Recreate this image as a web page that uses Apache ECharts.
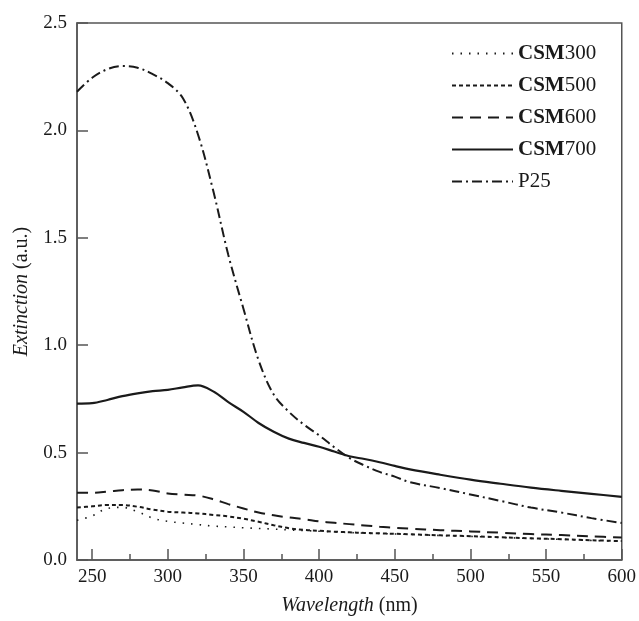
<!DOCTYPE html>
<html>
<head>
<meta charset="utf-8">
<script src="https://cdn.jsdelivr.net/npm/echarts@6/dist/echarts.min.js"></script>
<style>
  html, body { margin: 0; padding: 0; background: #fff; }
  #chart { width: 639px; height: 621px; }
</style>
</head>
<body>
<div id="chart"></div>
<script>
// ===== datos =====
const wl = [240, 250, 260, 270, 280, 290, 300, 310, 320, 330, 340, 350, 360, 370, 380, 390,
  400, 410, 420, 430, 440, 450, 460, 480, 500, 520, 540, 560, 580, 600];

const csm300 = [0.185, 0.205, 0.240, 0.245, 0.225, 0.195, 0.180, 0.172, 0.165, 0.158, 0.154, 0.150, 0.147, 0.144, 0.140, 0.137,
  0.134, 0.131, 0.128, 0.125, 0.123, 0.121, 0.119, 0.114, 0.110, 0.105, 0.100, 0.096, 0.091, 0.087];
const csm500 = [0.244, 0.250, 0.256, 0.256, 0.248, 0.235, 0.225, 0.221, 0.217, 0.210, 0.203, 0.192, 0.178, 0.162, 0.148, 0.140,
  0.136, 0.132, 0.129, 0.126, 0.124, 0.122, 0.120, 0.115, 0.111, 0.106, 0.101, 0.097, 0.092, 0.088];
const csm600 = [0.313, 0.313, 0.318, 0.325, 0.328, 0.324, 0.310, 0.304, 0.300, 0.283, 0.260, 0.240, 0.221, 0.208, 0.198, 0.190,
  0.180, 0.173, 0.167, 0.161, 0.155, 0.150, 0.146, 0.139, 0.133, 0.127, 0.121, 0.116, 0.110, 0.105];
const csm700 = [0.728, 0.730, 0.745, 0.763, 0.776, 0.786, 0.792, 0.804, 0.813, 0.785, 0.735, 0.690, 0.638, 0.597, 0.565, 0.545,
  0.527, 0.505, 0.483, 0.470, 0.455, 0.438, 0.422, 0.397, 0.374, 0.355, 0.337, 0.322, 0.308, 0.294];
const p25 = [2.180, 2.245, 2.285, 2.300, 2.292, 2.262, 2.220, 2.150, 1.980, 1.720, 1.420, 1.170, 0.930, 0.770, 0.690, 0.630,
  0.580, 0.525, 0.475, 0.440, 0.410, 0.388, 0.362, 0.335, 0.305, 0.275, 0.244, 0.221, 0.195, 0.172];

const xTicks = [250, 300, 350, 400, 450, 500, 550, 600];
const xMinorTicks = [275, 325, 375, 425, 475, 525, 575];

// ---- estilo ----
const FONT = '"Liberation Serif", "Times New Roman", serif';
const INK = '#1a1a1a';
const AXIS = '#555';

const pairs = ys => wl.map((x, i) => [x, ys[i]]);

function serie(name, ys, type, width) {
  return {
    name, type: 'line', data: pairs(ys), symbol: 'none', smooth: 0.35,
    lineStyle: { color: INK, width, type },
    itemStyle: { color: INK },
  };
}

const series = [
  serie('CSM300', csm300, [1.5, 7], 1.6),
  serie('CSM500', csm500, [4, 3], 2),
  serie('CSM600', csm600, [11, 7], 2),
  serie('CSM700', csm700, 'solid', 2.2),
  serie('P25', p25, [10, 4, 2, 4], 2),
];

const chart = echarts.init(document.getElementById('chart'), null, { renderer: 'canvas' });
chart.setOption({
  animation: false,
  backgroundColor: '#fff',
  grid: { left: 77, right: 15, top: 23, bottom: 53, show: true, borderColor: AXIS, borderWidth: 1.5 },
  legend: {
    left: 446, top: 38, orient: 'vertical', itemWidth: 61, itemHeight: 14, itemGap: 11,
    selectedMode: false,
    itemStyle: { opacity: 0 },
    formatter: n => n.startsWith('CSM') ? `{b|CSM}{n|${n.slice(3)}}` : `{n|${n}}`,
    textStyle: {
      fontFamily: FONT, fontSize: 21, color: INK,
      rich: {
        b: { fontFamily: FONT, fontSize: 21, fontWeight: 'bold', color: INK },
        n: { fontFamily: FONT, fontSize: 21, color: INK },
      },
    },
  },
  xAxis: [{
    type: 'value', min: 240, max: 600,
    name: '{i|Wavelength} (nm)', nameLocation: 'middle', nameGap: 36,
    nameTextStyle: {
      fontFamily: FONT, fontSize: 20, color: INK,
      rich: { i: { fontFamily: FONT, fontSize: 20, fontStyle: 'italic', color: INK } },
    },
    axisLine: { lineStyle: { color: AXIS, width: 1.5 } },
    axisTick: { inside: true, length: 11, lineStyle: { color: AXIS, width: 1.5 }, customValues: xTicks },
    axisLabel: { fontFamily: FONT, fontSize: 19, color: INK, margin: 8, customValues: xTicks },
    splitLine: { show: false },
  }, {
    // segundo eje sólo para las marcas menores
    type: 'value', min: 240, max: 600, position: 'bottom',
    axisLine: { show: false },
    axisTick: { inside: true, length: 6, lineStyle: { color: AXIS, width: 1.5 }, customValues: xMinorTicks },
    axisLabel: { show: false },
    splitLine: { show: false },
  }],
  yAxis: {
    type: 'value', min: 0, max: 2.5, interval: 0.5,
    name: '{i|Extinction} (a.u.)', nameLocation: 'middle', nameGap: 45,
    nameTextStyle: {
      fontFamily: FONT, fontSize: 20, color: INK,
      rich: { i: { fontFamily: FONT, fontSize: 20, fontStyle: 'italic', color: INK } },
    },
    axisLine: { show: true, lineStyle: { color: AXIS, width: 1.5 } },
    axisTick: { show: true, inside: true, length: 11, lineStyle: { color: AXIS, width: 1.5 } },
    axisLabel: { fontFamily: FONT, fontSize: 19, color: INK, margin: 10, formatter: v => v.toFixed(1) },
    splitLine: { show: false },
  },
  series,
});
</script>
</body>
</html>
